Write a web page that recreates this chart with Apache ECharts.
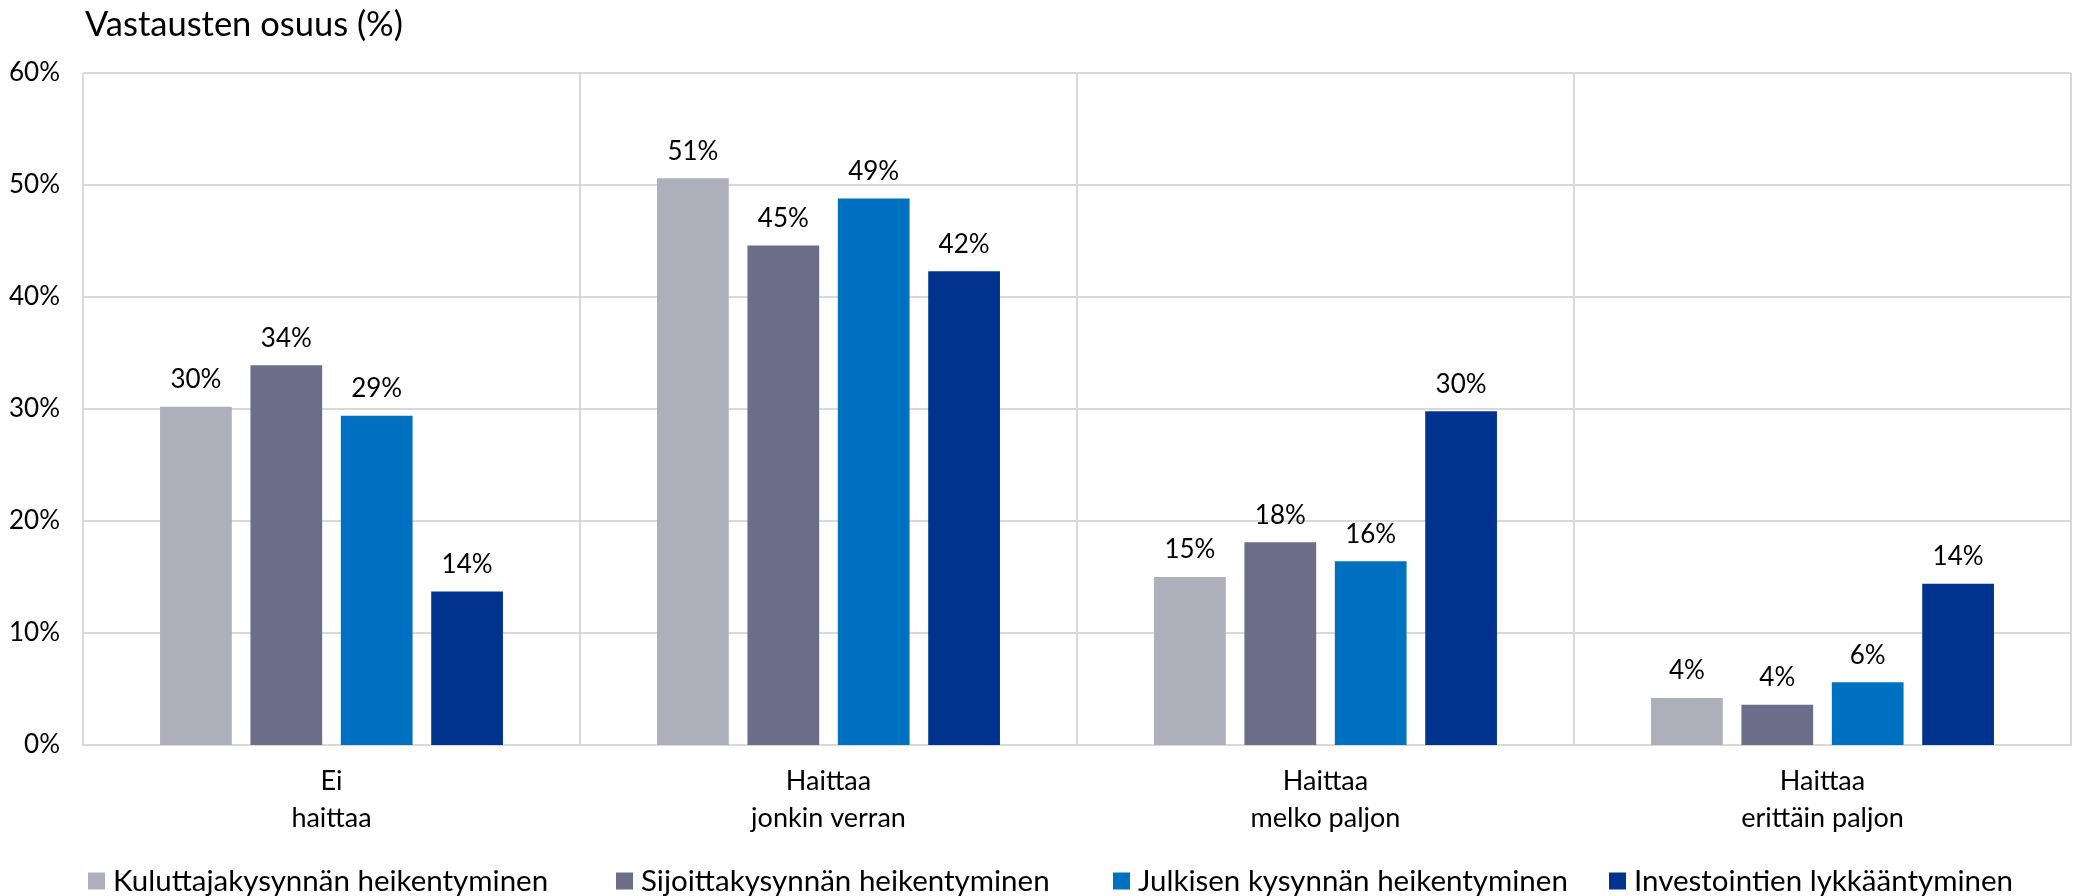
<!DOCTYPE html>
<html>
<head>
<meta charset="utf-8">
<script src="https://cdn.jsdelivr.net/npm/echarts@6/dist/echarts.min.js"></script>
<style>
html,body{margin:0;padding:0;background:#fff;}
#c{width:2074px;height:896px;}
</style>
</head>
<body>
<div id="c"></div>
<script>
const categories = ["Ei\nhaittaa", "Haittaa\njonkin verran", "Haittaa\nmelko paljon", "Haittaa\nerittäin paljon"];
const seriesNames = ["Kuluttajakysynnän heikentyminen", "Sijoittakysynnän heikentyminen", "Julkisen kysynnän heikentyminen", "Investointien lykkääntyminen"];
const kuluttaja = [30.2, 50.6, 15.0, 4.2];
const sijoittaja = [33.9, 44.6, 18.1, 3.6];
const julkinen = [29.4, 48.8, 16.4, 5.6];
const investoinnit = [13.7, 42.3, 29.8, 14.4];
const yTicks = [0, 10, 20, 30, 40, 50, 60];
const titleText = "Vastausten osuus (%)";

const colors = ["#adb0bb", "#6a6e89", "#0071c1", "#00338e"];
const values = [kuluttaja, sijoittaja, julkinen, investoinnit];
const FONT = "Lato";

const chart = echarts.init(document.getElementById('c'), null, {renderer: 'canvas'});
const legendLefts = [83, 611, 1108, 1604];

const option = {
  animation: false,
  backgroundColor: '#fff',
  textStyle: {fontFamily: FONT},
  title: {
    text: titleText, left: 80, top: 2,
    textStyle: {fontFamily: FONT, fontSize: 34.5, fontWeight: 'normal', color: '#000'}
  },
  legend: seriesNames.map((n, i) => ({
    data: [n], left: legendLefts[i], top: 861,
    itemWidth: 17, itemHeight: 17, itemGap: 0,
    icon: 'rect',
    textStyle: {fontFamily: FONT, fontSize: 29.5, color: '#000', padding: [0, 0, 0, 3]}
  })),
  grid: {left: 83, right: 3, top: 73, bottom: 151, containLabel: false},
  xAxis: {
    type: 'category',
    data: categories,
    axisLine: {show: true, lineStyle: {color: '#d9d9d9', width: 2}},
    axisTick: {show: false},
    splitLine: {show: true, lineStyle: {color: '#d9d9d9', width: 2}},
    axisLabel: {fontFamily: FONT, fontSize: 27, color: '#000', lineHeight: 37, margin: 18}
  },
  yAxis: {
    type: 'value', min: yTicks[0], max: yTicks[yTicks.length - 1], interval: 10,
    axisLine: {show: false},
    axisTick: {show: false},
    splitLine: {show: true, lineStyle: {color: '#d9d9d9', width: 2}},
    axisLabel: {fontFamily: FONT, fontSize: 26, color: '#000', margin: 23, formatter: '{value}%'}
  },
  series: seriesNames.map((n, i) => ({
    name: n, type: 'bar', data: values[i],
    barGap: '26%', barCategoryGap: '31%',
    itemStyle: {color: colors[i]},
    label: {
      show: true, position: 'top', distance: 14,
      fontFamily: FONT, fontSize: 26, color: '#000',
      formatter: p => Math.round(p.value) + '%'
    }
  }))
};
chart.setOption(option);
</script>
</body>
</html>
